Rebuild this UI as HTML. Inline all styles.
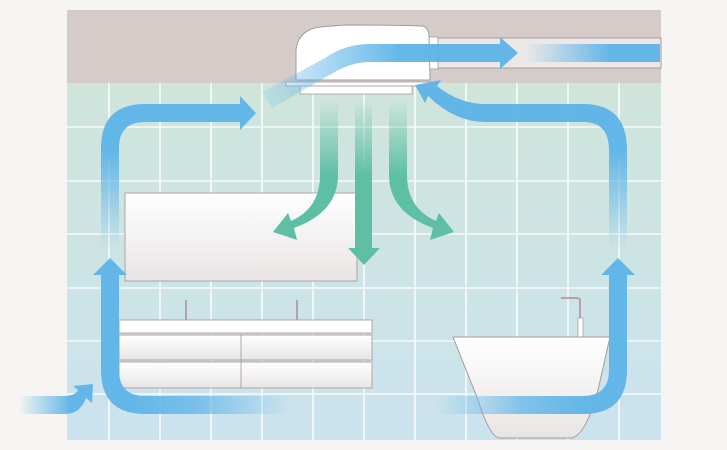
<!DOCTYPE html>
<html><head><meta charset="utf-8"><style>
html,body{margin:0;padding:0;background:#f6f5f3;}
svg{display:block;}
</style></head><body>
<svg width="727" height="450" viewBox="0 0 727 450" xmlns="http://www.w3.org/2000/svg">
<defs>
<linearGradient id="wall" x1="0" y1="0" x2="0" y2="1">
<stop offset="0" stop-color="#d0e5d6"/><stop offset="1" stop-color="#cbe3ef"/>
</linearGradient>
<linearGradient id="wh" x1="0" y1="0" x2="0" y2="1">
<stop offset="0" stop-color="#ffffff"/><stop offset="1" stop-color="#e8e5e4"/>
</linearGradient>
<linearGradient id="fadeUpL" gradientUnits="userSpaceOnUse" x1="0" y1="250" x2="0" y2="150">
<stop offset="0" stop-color="#5db4e8" stop-opacity="0"/><stop offset="1" stop-color="#5db4e8"/>
</linearGradient>
<linearGradient id="fadeH1" gradientUnits="userSpaceOnUse" x1="290" y1="0" x2="130" y2="0">
<stop offset="0" stop-color="#5db4e8" stop-opacity="0"/><stop offset="0.6" stop-color="#5db4e8" stop-opacity="0.8"/><stop offset="1" stop-color="#5db4e8"/>
</linearGradient>
<linearGradient id="fadeH2" gradientUnits="userSpaceOnUse" x1="435" y1="0" x2="580" y2="0">
<stop offset="0" stop-color="#5db4e8" stop-opacity="0"/><stop offset="0.6" stop-color="#5db4e8" stop-opacity="0.8"/><stop offset="1" stop-color="#5db4e8"/>
</linearGradient>
<linearGradient id="fadeIn" gradientUnits="userSpaceOnUse" x1="18" y1="0" x2="70" y2="0">
<stop offset="0" stop-color="#5db4e8" stop-opacity="0"/><stop offset="1" stop-color="#5db4e8"/>
</linearGradient>
<linearGradient id="fadeDuct" gradientUnits="userSpaceOnUse" x1="525" y1="0" x2="610" y2="0">
<stop offset="0" stop-color="#5db4e8" stop-opacity="0"/><stop offset="1" stop-color="#5db4e8"/>
</linearGradient>
<linearGradient id="fadeUnit" gradientUnits="userSpaceOnUse" x1="262" y1="0" x2="400" y2="0">
<stop offset="0" stop-color="#5db4e8" stop-opacity="0.15"/><stop offset="1" stop-color="#5db4e8"/>
</linearGradient>
<linearGradient id="gfade" gradientUnits="userSpaceOnUse" x1="0" y1="100" x2="0" y2="175">
<stop offset="0" stop-color="#5fbfa4" stop-opacity="0"/><stop offset="1" stop-color="#5fbfa4"/>
</linearGradient>
</defs>
<rect x="67" y="10" width="594" height="430" fill="url(#wall)"/>
<g stroke="#ffffff" stroke-width="1.6" opacity="0.85">
<line x1="109" y1="83" x2="109" y2="440"/><line x1="160" y1="83" x2="160" y2="440"/><line x1="211" y1="83" x2="211" y2="440"/><line x1="262" y1="83" x2="262" y2="440"/><line x1="313" y1="83" x2="313" y2="440"/><line x1="364" y1="83" x2="364" y2="440"/><line x1="415" y1="83" x2="415" y2="440"/><line x1="466" y1="83" x2="466" y2="440"/><line x1="517" y1="83" x2="517" y2="440"/><line x1="568" y1="83" x2="568" y2="440"/><line x1="619" y1="83" x2="619" y2="440"/>
<line x1="67" y1="127" x2="661" y2="127"/><line x1="67" y1="181" x2="661" y2="181"/><line x1="67" y1="234" x2="661" y2="234"/><line x1="67" y1="288" x2="661" y2="288"/><line x1="67" y1="341" x2="661" y2="341"/><line x1="67" y1="394" x2="661" y2="394"/>
</g>
<rect x="67" y="10" width="594" height="73" fill="#d5cbc8"/>
<rect x="435" y="38" width="226" height="30" fill="#ece8e7" stroke="#a89a98" stroke-width="1"/>
<rect x="428" y="37" width="10" height="32" fill="#fff" stroke="#a89a98" stroke-width="0.8"/>
<path d="M296 80 L296 50 Q298 30 320 27 L345 25 Q400 25 422 26 Q428 27 429 35 L430 80 Z" fill="#fff" stroke="#a89a98" stroke-width="1"/>
<rect x="286" y="82" width="146" height="4" fill="#fff" stroke="#a89a98" stroke-width="0.8"/>
<rect x="300" y="86" width="112" height="8" fill="#fff" stroke="#a89a98" stroke-width="0.8"/>
<rect x="125" y="193" width="232" height="88" fill="url(#wh)" stroke="#b0a5a4" stroke-width="1"/>
<g fill="url(#gfade)">
<path d="M320 100 L338 100 L338 175 Q338 212 294 228 L297 240 L273 232 L288 213 L291 221 Q320 208 320 175 Z"/>
<path d="M355 100 L372 100 L372 248 L380 248 L364 265 L348 248 L355 248 Z"/>
<path d="M407 100 L389 100 L389 175 Q389 212 433 228 L430 240 L454 232 L439 213 L436 221 Q407 208 407 175 Z"/>
</g>
<line x1="186" y1="300" x2="186" y2="320" stroke="#b0a5a4" stroke-width="2"/>
<line x1="297" y1="300" x2="297" y2="320" stroke="#b0a5a4" stroke-width="2"/>
<rect x="119" y="320" width="253" height="13" fill="#fff" stroke="#b0a5a4" stroke-width="1"/>
<rect x="119" y="335" width="253" height="25" fill="url(#wh)" stroke="#b0a5a4" stroke-width="1"/>
<rect x="119" y="362" width="253" height="26" fill="url(#wh)" stroke="#b0a5a4" stroke-width="1"/>
<line x1="241" y1="335" x2="241" y2="388" stroke="#b0a5a4" stroke-width="1"/>
<path d="M580 337 L580 300 Q580 298 576 298 L561 298" fill="none" stroke="#b0a5a4" stroke-width="2"/>
<rect x="578" y="318" width="5" height="19" fill="#fff" stroke="#b0a5a4" stroke-width="0.8"/>
<path d="M453 337 L610 337 L598 390 Q585 438 570 438 L500 438 Q490 438 478 400 Z" fill="url(#wh)" stroke="#a89a98" stroke-width="1"/>
<g opacity="0.95">
<path d="M101 250 L101 148 Q101 104 145 104 L240 104 L240 96 L256 113 L240 130 L240 122 L145 122 Q119 122 119 148 L119 250 Z" fill="url(#fadeUpL)"/>
<path d="M290 396 L145 396 Q119 396 119 370 L119 275 L127 275 L110 258 L93 275 L101 275 L101 370 Q101 414 145 414 L290 414 Z" fill="url(#fadeH1)"/>
<path d="M627 250 L627 150 Q627 104 583 104 L485 104 Q460 104 437 86 L441 80 L415 85 L425 103 L428 96 Q455 122 485 122 L583 122 Q609 122 609 150 L609 250 Z" fill="url(#fadeUpL)"/>
<path d="M435 396 L583 396 Q609 396 609 370 L609 275 L601 275 L618 258 L635 275 L627 275 L627 370 Q627 414 583 414 L435 414 Z" fill="url(#fadeH2)"/>
<path d="M18 396 L65 396 Q75 396 78 390 L73 386 L93 384 L92 403 L86 398 Q80 414 65 414 L18 414 Z" fill="url(#fadeIn)"/>
<path d="M262 92 L325 58 Q345 44 370 44 L500 44 L500 37 L518 53 L500 69 L500 62 L370 62 Q352 62 333 73 L272 108 Z" fill="url(#fadeUnit)"/>
<rect x="525" y="44" width="135" height="18" fill="url(#fadeDuct)"/>
</g>
</svg>
</body></html>
